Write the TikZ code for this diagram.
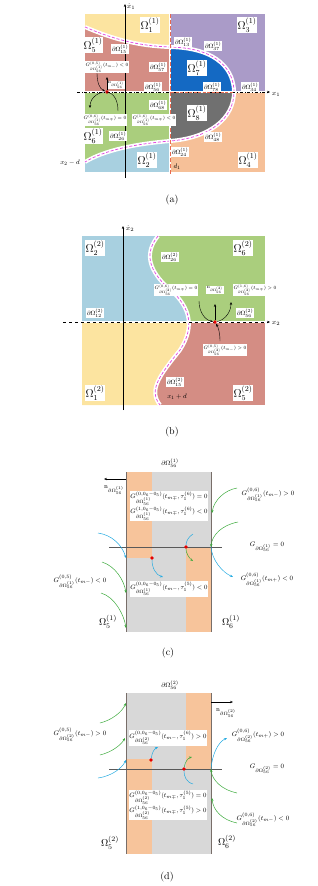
\documentclass[tikz,border=0pt]{standalone}
\usepackage{amsmath,amssymb}
\usepackage{tikz}
\usetikzlibrary{arrows.meta}
\definecolor{regyellow}{RGB}{252,228,160}
\definecolor{regpink}{RGB}{212,141,132}
\definecolor{regpurple}{RGB}{170,155,200}
\definecolor{regblue}{RGB}{20,105,195}
\definecolor{reggray}{RGB}{112,112,112}
\definecolor{regpeach}{RGB}{246,192,152}
\definecolor{reggreen}{RGB}{170,206,125}
\definecolor{regcyan}{RGB}{168,208,224}
\definecolor{bndmag}{RGB}{225,70,225}
\definecolor{bndorange}{RGB}{232,105,80}
\definecolor{flowgreen}{RGB}{60,170,60}
\definecolor{flowblue}{RGB}{35,170,225}
\definecolor{strgray}{RGB}{216,216,216}
\definecolor{strorange}{RGB}{247,196,155}
\definecolor{edgegray}{RGB}{120,110,105}
\newcommand{\dOm}[2]{\partial\Omega^{(#1)}_{#2}}

\begin{document}
\begin{tikzpicture}[x=1pt,y=-1pt,>={Stealth[length=3pt,width=2.4pt]},
  lbl/.style={fill=white,inner sep=0.6pt,font=\scriptsize,scale=0.7},
  bnd/.style={fill=white,inner sep=0.6pt,font=\footnotesize,scale=0.78},
  reg/.style={fill=white,inner sep=1pt,font=\large,scale=0.95},
  plain/.style={inner sep=0.5pt,font=\footnotesize,scale=0.82},
  boxl/.style={fill=white,inner sep=1pt,font=\footnotesize,align=left,scale=0.8},
  wband/.style={white,line width=4pt},
  magdash/.style={bndmag,line width=0.7pt,dash pattern=on 3pt off 1.8pt},
  dotr/.style={circle,fill=red!90!black,inner sep=0pt,minimum size=3.6pt},
  garr/.style={->,flowgreen,line width=0.5pt},
  barr/.style={->,flowblue,line width=0.5pt}]
\useasboundingbox (0,0) rectangle (318,886);

% (a)
\fill[regpink] (85,14) rectangle (170,92);
\fill[regpurple] (170,14) rectangle (265,92);
\fill[regcyan] (85,92) rectangle (170,172);
\fill[regpeach] (170,92) rectangle (265,172);
\fill[regyellow] (85,14) -- (85,27) .. controls (115,40) and (140,46) .. (170,47) -- (170,14) -- cycle;
\fill[regblue] (170,47) .. controls (220,48) and (234,72) .. (234,92) -- (170,92) -- cycle;
\fill[reggray] (170,92) -- (234,92) .. controls (234,118) and (210,138) .. (170,141) -- cycle;
\fill[reggreen] (85,92) -- (170,92) -- (170,141) .. controls (135,144) and (105,150) .. (85,162) -- cycle;
\draw[wband] (85,27) .. controls (115,40) and (140,46) .. (170,47) .. controls (220,48) and (234,72) .. (234,92)
  .. controls (234,118) and (210,138) .. (170,141) .. controls (135,144) and (105,150) .. (85,162);
\draw[magdash] (85,27) .. controls (115,40) and (140,46) .. (170,47) .. controls (220,48) and (234,72) .. (234,92)
  .. controls (234,118) and (210,138) .. (170,141) .. controls (135,144) and (105,150) .. (85,162);
\draw[white,line width=2.5pt] (170,14) -- (170,172);
\draw[white,line width=2pt] (85,92) -- (265,92);
\draw[bndorange,line width=0.9pt,dash pattern=on 4pt off 2pt] (170,14) -- (170,174);
\draw[->] (125,178) -- (125,4);
\draw[->,dash dot] (77,92) -- (270,92);
\draw[bndorange,line width=0.8pt,dash pattern=on 3pt off 1.5pt] (171,92) -- (233,92);
\node[font=\scriptsize] (xdA) at (131,7) {$\dot{x}_1$};
\node[font=\scriptsize] (xA) at (276,94) {$x_1$};
\node[reg] (oA1) at (150,25) {$\Omega^{(1)}_1$};
\node[reg] (oA3) at (247,25) {$\Omega^{(1)}_3$};
\node[reg] (oA5) at (93,45) {$\Omega^{(1)}_5$};
\node[reg] (oA7) at (197,68) {$\Omega^{(1)}_7$};
\node[reg] (oA8) at (197,113) {$\Omega^{(1)}_8$};
\node[reg] (oA6) at (93,136) {$\Omega^{(1)}_6$};
\node[reg] (oA2) at (147,160) {$\Omega^{(1)}_2$};
\node[reg] (oA4) at (248,160) {$\Omega^{(1)}_4$};
\node[bnd] (bA13) at (183,42) {$\dOm{1}{13}$};
\node[bnd] (bA37) at (213,46) {$\dOm{1}{37}$};
\node[bnd] (bA15) at (120,49) {$\dOm{1}{15}$};
\node[bnd] (bA57) at (158,67) {$\dOm{1}{57}$};
\node[bnd] (bA56) at (153,87) {$\dOm{1}{56}$};
\node[bnd] (bA78) at (212,87) {$\dOm{1}{78}$};
\node[bnd] (bA34) at (250,87) {$\dOm{1}{34}$};
\node[bnd] (bA68) at (158,105) {$\dOm{1}{68}$};
\node[bnd] (bA26) at (118,136) {$\dOm{1}{26}$};
\node[bnd] (bA48) at (213,137) {$\dOm{1}{48}$};
\node[bnd] (bA24) at (180,152) {$\dOm{1}{24}$};
\node[lbl] (gA05) at (107,67) {$G^{(0,5)}_{\dOm{1}{56}}(t_{m-})<0$};
\node[lbl] (gA06) at (105,120) {$G^{(0,6)}_{\dOm{1}{56}}(t_{m\mp})=0$};
\node[lbl] (gA16) at (154,120) {$G^{(1,6)}_{\dOm{1}{56}}(t_{m\mp})<0$};
\node[lbl] (nA) at (116,85) {$\mathrm{n}_{\dOm{1}{56}}$};
\node[plain] (d1A) at (177,167) {$d_1$};
\node[plain] (xmdA) at (70,163) {$x_2-d$};
\node (capA) at (172,200) {(a)};
\node[dotr] (dotA) at (107,92) {};
\coordinate (nAtip) at (107,77);
\coordinate (a05s) at (97,73);
\coordinate (arcR) at (118,111);
\coordinate (arcL) at (90,108);
\draw[->] (dotA) -- (nAtip);
\draw[->] (a05s) .. controls (97,83) and (100,89) .. (dotA);
\draw[->] (arcR) .. controls (118,99) and (113,93) .. (dotA.center) .. controls (100,91) and (90,97) .. (arcL);

% (b)
\fill[reggreen] (82,236) rectangle (265,322);
\fill[regpink] (82,322) rectangle (265,405);
\begin{scope}
  \clip (82,236) rectangle (265,322);
  \fill[regcyan] (82,236) -- (158,236) .. controls (145,252) and (148,268) .. (165,285) .. controls (190,305) and (196,325) .. (180,350)
    .. controls (160,375) and (148,390) .. (160,405) -- (82,405) -- cycle;
\end{scope}
\begin{scope}
  \clip (82,322) rectangle (265,405);
  \fill[regyellow] (82,236) -- (158,236) .. controls (145,252) and (148,268) .. (165,285) .. controls (190,305) and (196,325) .. (180,350)
    .. controls (160,375) and (148,390) .. (160,405) -- (82,405) -- cycle;
\end{scope}
\draw[wband] (158,236) .. controls (145,252) and (148,268) .. (165,285) .. controls (190,305) and (196,325) .. (180,350)
  .. controls (160,375) and (148,390) .. (160,405);
\draw[magdash] (158,236) .. controls (145,252) and (148,268) .. (165,285) .. controls (190,305) and (196,325) .. (180,350)
  .. controls (160,375) and (148,390) .. (160,405);
\draw[white,line width=2.5pt] (82,322) -- (265,322);
\draw[->,dashed] (63,322) -- (270,322);
\draw[->] (123,410) -- (123,226);
\node[font=\scriptsize] (xdB) at (130,229) {$\dot{x}_2$};
\node[font=\scriptsize] (xB) at (276,323) {$x_2$};
\node[reg] (oB2) at (95,248) {$\Omega^{(2)}_2$};
\node[reg] (oB6) at (243,248) {$\Omega^{(2)}_6$};
\node[reg] (oB1) at (95,393) {$\Omega^{(2)}_1$};
\node[reg] (oB5) at (243,393) {$\Omega^{(2)}_5$};
\node[bnd] (bB26) at (170,257) {$\dOm{2}{26}$};
\node[bnd] (bB12) at (95,313) {$\dOm{2}{12}$};
\node[bnd] (bB56) at (245,313) {$\dOm{2}{56}$};
\node[bnd] (bB15) at (175,382) {$\dOm{2}{15}$};
\node[lbl] (gB06) at (176,290) {$G^{(0,6)}_{\dOm{2}{56}}(t_{m\mp})=0$};
\node[lbl] (nB) at (215,290) {$\mathrm{n}_{\dOm{2}{56}}$};
\node[lbl] (gB16) at (255,290) {$G^{(1,6)}_{\dOm{2}{56}}(t_{m\mp})>0$};
\node[lbl] (gB05) at (225,350) {$G^{(0,5)}_{\dOm{2}{56}}(t_{m-})>0$};
\node[plain] (xpdB) at (177,397) {$x_1+d$};
\node (capB) at (172,432) {(b)};
\node[dotr] (dotB) at (215,322) {};
\coordinate (nBtip) at (215,304);
\coordinate (b06s) at (199,301);
\coordinate (b16e) at (231,302);
\coordinate (b05s) at (220,341);
\draw[->] (dotB) -- (nBtip);
\draw[->] (b06s) .. controls (199,312) and (205,320) .. (dotB);
\draw[->] (dotB) .. controls (225,320) and (231,312) .. (b16e);
\draw[->] (b05s) .. controls (220,332) and (218,327) .. (dotB);

% (c)
\fill[strgray] (126,472) rectangle (211,632);
\fill[strorange] (126,472) rectangle (152,558);
\fill[strorange] (186,547) rectangle (211,632);
\draw[edgegray,line width=0.7pt] (126,472) -- (126,632) (211,472) -- (211,632);
\draw[gray!70!black,line width=0.6pt] (109,547) -- (222,547);
\node[plain] (tC) at (170,463) {$\dOm{1}{56}$};
\node[boxl] (bxC6) at (169,506) {$G^{(0,0_6-0_5)}_{\dOm{1}{56}}(t_{m\mp},\tau^{(6)}_1)=0$\\[1pt]$G^{(1,0_6-0_5)}_{\dOm{1}{56}}(t_{m\mp},\tau^{(6)}_1)<0$};
\node[boxl] (bxC5) at (169,589) {$G^{(0,0_6-0_5)}_{\dOm{1}{56}}(t_{m-},\tau^{(5)}_1)<0$};
\node[plain] (nC) at (114,490) {$\mathrm{n}_{\dOm{1}{56}}$};
\node[plain] (gC6a) at (268,495) {$G^{(0,6)}_{\dOm{1}{56}}(t_{m-})>0$};
\node[plain] (axC) at (267,547) {$G_{\dOm{1}{56}}=0$};
\node[plain] (gC6b) at (267,580) {$G^{(0,6)}_{\dOm{1}{56}}(t_{m+})<0$};
\node[plain] (gC5) at (80,582) {$G^{(0,5)}_{\dOm{1}{56}}(t_{m-})<0$};
\node[font=\normalsize] (oC5) at (108,622) {$\Omega^{(1)}_5$};
\node[font=\normalsize] (oC6) at (231,622) {$\Omega^{(1)}_6$};
\node (capC) at (168,653) {(c)};
\coordinate (nCs) at (126,479);
\coordinate (nCe) at (104,479);
\draw[->,line width=0.6pt] (nCs) -- (nCe);
\node[dotr] (dotC1) at (186,547) {};
\node[dotr] (dotC2) at (152,558) {};
\coordinate (c1s) at (237,488);
\coordinate (c1e) at (212,513);
\coordinate (c2s) at (238,522);
\coordinate (c2e) at (211,547);
\coordinate (c3s) at (98,533);
\coordinate (c3e) at (126,558);
\coordinate (c4e) at (163,577);
\coordinate (c5s) at (193,534);
\coordinate (c6e) at (193,561);
\coordinate (c7e) at (233,577);
\coordinate (c8s) at (102,562);
\coordinate (c8e) at (126,593);
\coordinate (c9s) at (101,593);
\coordinate (c9e) at (126,628);
\draw[garr] (c1s) .. controls (225,490) and (214,500) .. (c1e);
\draw[garr] (c2s) .. controls (222,525) and (212,535) .. (c2e);
\draw[barr] (c3s) .. controls (112,535) and (122,545) .. (c3e);
\draw[barr] (dotC2) .. controls (152,568) and (156,575) .. (c4e);
\draw[flowblue,line width=0.5pt] (c5s) .. controls (188,537) and (186,542) .. (dotC1);
\draw[garr] (dotC1) .. controls (186,553) and (189,558) .. (c6e);
\draw[barr] (c2e) .. controls (212,560) and (222,572) .. (c7e);
\draw[garr] (c8s) .. controls (115,566) and (124,580) .. (c8e);
\draw[garr] (c9s) .. controls (115,597) and (124,615) .. (c9e);

% (d)
\fill[strgray] (126,693) rectangle (211,854);
\fill[strorange] (126,759) rectangle (152,854);
\fill[strorange] (186,693) rectangle (211,769);
\draw[edgegray,line width=0.7pt] (126,693) -- (126,854) (211,693) -- (211,854);
\draw[gray!70!black,line width=0.6pt] (109,769) -- (222,769);
\node[plain] (tD) at (170,685) {$\dOm{2}{56}$};
\node[boxl] (bxD6) at (168,738) {$G^{(0,0_6-0_5)}_{\dOm{2}{56}}(t_{m-},\tau^{(6)}_1)>0$};
\node[boxl] (bxD5) at (168,805) {$G^{(0,0_6-0_5)}_{\dOm{2}{56}}(t_{m\mp},\tau^{(5)}_1)=0$\\[1pt]$G^{(1,0_6-0_5)}_{\dOm{2}{56}}(t_{m\mp},\tau^{(5)}_1)>0$};
\node[plain] (nD) at (226,713) {$\mathrm{n}_{\dOm{2}{56}}$};
\node[plain] (gD5) at (80,735) {$G^{(0,5)}_{\dOm{2}{56}}(t_{m-})>0$};
\node[plain] (gD6a) at (258,736) {$G^{(0,6)}_{\dOm{2}{56}}(t_{m+})>0$};
\node[plain] (axD) at (267,769) {$G_{\dOm{2}{56}}=0$};
\node[plain] (gD6b) at (263,820) {$G^{(0,6)}_{\dOm{2}{56}}(t_{m-})<0$};
\node[font=\normalsize] (oD5) at (110,843) {$\Omega^{(2)}_5$};
\node[font=\normalsize] (oD6) at (227,842) {$\Omega^{(2)}_6$};
\node (capD) at (167,877) {(d)};
\coordinate (nDs) at (211,702);
\coordinate (nDe) at (233,702);
\draw[->,line width=0.6pt] (nDs) -- (nDe);
\node[dotr] (dotD1) at (151,760) {};
\node[dotr] (dotD2) at (184,769) {};
\coordinate (d1s) at (100,723);
\coordinate (d1e) at (126,703);
\coordinate (d2s) at (100,755);
\coordinate (d2e) at (125,738);
\coordinate (d3s) at (98,778);
\coordinate (d3e) at (126,760);
\coordinate (d4e) at (158,747);
\coordinate (d5e) at (192,757);
\coordinate (d6s) at (193,784);
\coordinate (d7s) at (211,769);
\coordinate (d7e) at (227,738);
\coordinate (d8s) at (237,793);
\coordinate (d9s) at (237,823);
\coordinate (d9e) at (212,798);
\draw[garr] (d1s) .. controls (112,720) and (122,712) .. (d1e);
\draw[garr] (d2s) .. controls (112,752) and (121,745) .. (d2e);
\draw[barr] (d3s) .. controls (112,776) and (122,768) .. (d3e);
\draw[barr] (dotD1) .. controls (152,753) and (154,749) .. (d4e);
\draw[garr] (dotD2) .. controls (185,762) and (188,758) .. (d5e);
\draw[flowblue,line width=0.5pt] (d6s) .. controls (186,782) and (184,776) .. (dotD2);
\draw[barr] (d7s) .. controls (212,755) and (218,742) .. (d7e);
\draw[garr] (d8s) .. controls (222,790) and (212,780) .. (d7s);
\draw[garr] (d9s) .. controls (222,820) and (213,810) .. (d9e);
\end{tikzpicture}
\end{document}
